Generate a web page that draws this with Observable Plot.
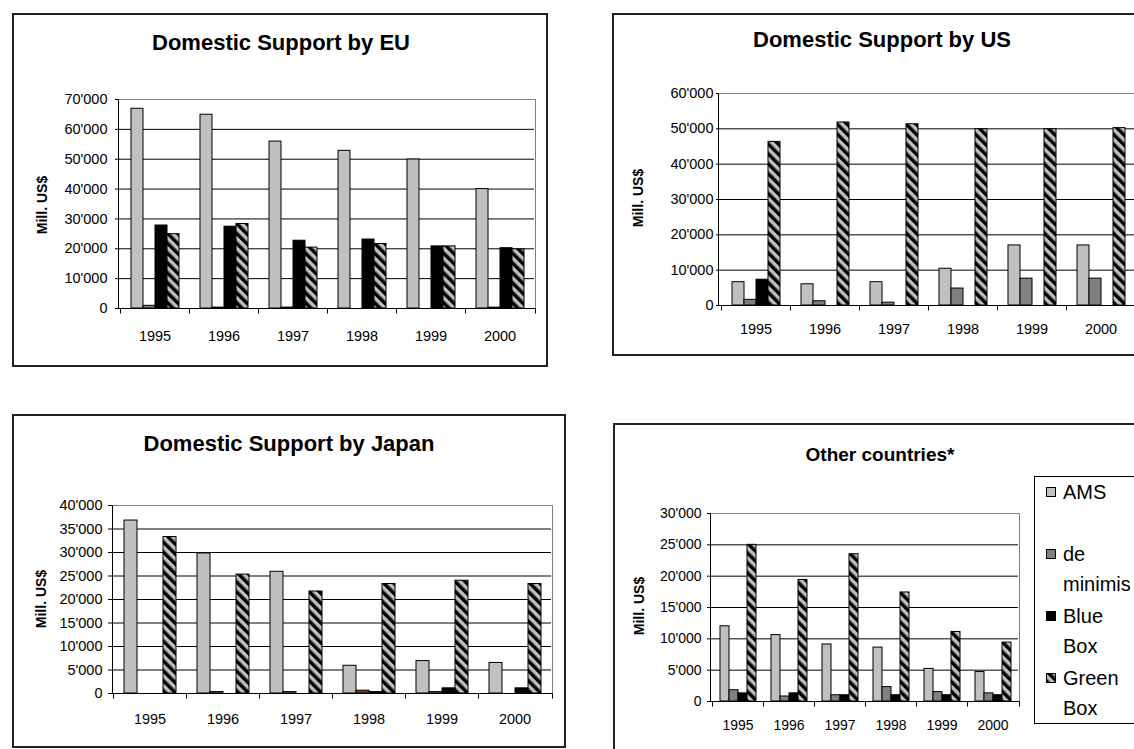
<!DOCTYPE html>
<html>
<head>
<meta charset="utf-8">
<script src="https://cdn.jsdelivr.net/npm/d3@7"></script>
<script src="https://cdn.jsdelivr.net/npm/@observablehq/plot@0.6"></script>
<style>
  body { margin: 0; background: #fff; }
  #page { position: relative; width: 1134px; height: 749px; overflow: hidden; background: #fff;
          font-family: "Liberation Sans", Arial, sans-serif; color: #000; }
  .frame { position: absolute; border: 2px solid #222; box-sizing: border-box; }
  .title { position: absolute; font-weight: bold; white-space: nowrap; transform: translate(-50%, -50%); line-height: 1; }
  .ylab { position: absolute; font-weight: bold; font-size: 14px; white-space: nowrap; line-height: 1;
          transform: translate(-50%, -50%) rotate(-90deg); }
  .chart { position: absolute; }
  .legend { position: absolute; border: 1px solid #000; box-sizing: border-box; background: #fff; }
  .entry { position: absolute; left: 0; font-size: 20px; line-height: 30px; }
  .entry .sw { position: absolute; left: 11px; top: 10px; width: 10px; height: 10px; box-sizing: border-box; border: 1px solid #000; }
  .entry .tx { position: absolute; left: 28px; top: 0; white-space: nowrap; }
</style>
</head>
<body>
<div id="page"></div>
<script>
// ---------------- data ----------------
const years = ["1995", "1996", "1997", "1998", "1999", "2000"];
const series = ["AMS", "de minimis", "Blue Box", "Green Box"];
const legendLines = [["AMS"], ["de", "minimis"], ["Blue", "Box"], ["Green", "Box"]];

// Domestic Support by EU (Mill. US$)
const euAMS       = [66900, 64900, 55900, 52800, 49900, 40000];
const euDeMinimis = [900, 300, 300, 0, 0, 300];
const euBlueBox   = [27800, 27400, 22700, 23100, 20800, 20200];
const euGreenBox  = [24900, 28300, 20400, 21600, 20800, 19800];

// Domestic Support by US
const usAMS       = [6600, 6000, 6600, 10400, 17000, 17000];
const usDeMinimis = [1600, 1200, 800, 4800, 7600, 7600];
const usBlueBox   = [7300, 0, 0, 0, 0, 0];
const usGreenBox  = [46300, 51800, 51300, 49900, 49900, 50200];

// Domestic Support by Japan
const jpAMS       = [36800, 29800, 25900, 5900, 6900, 6500];
const jpDeMinimis = [0, 300, 300, 600, 300, 0];
const jpBlueBox   = [0, 0, 0, 300, 1100, 1100];
const jpGreenBox  = [33300, 25300, 21700, 23300, 24000, 23300];

// Other countries*
const otAMS       = [12000, 10600, 9100, 8600, 5200, 4700];
const otDeMinimis = [1800, 800, 1000, 2300, 1500, 1300];
const otBlueBox   = [1300, 1300, 1000, 1000, 1000, 1000];
const otGreenBox  = [25000, 19400, 23500, 17400, 11100, 9400];

// y-axis tick values
const yTicksEU    = [0, 10000, 20000, 30000, 40000, 50000, 60000, 70000];
const yTicksUS    = [0, 10000, 20000, 30000, 40000, 50000, 60000];
const yTicksJapan = [0, 5000, 10000, 15000, 20000, 25000, 30000, 35000, 40000];
const yTicksOther = [0, 5000, 10000, 15000, 20000, 25000, 30000];

const titles = ["Domestic Support by EU", "Domestic Support by US", "Domestic Support by Japan", "Other countries*"];
const yLabel = "Mill. US$";

// ---------------- styling / layout ----------------
const FONT = '"Liberation Sans", Arial, sans-serif';
const fmt = d3.formatLocale({decimal: ".", thousands: "'", grouping: [3], currency: ["", ""]}).format(",");
const page = document.getElementById("page");

function addDiv(cls, css, text) {
  const d = document.createElement("div");
  d.className = cls;
  Object.assign(d.style, css);
  if (text != null) d.textContent = text;
  page.appendChild(d);
  return d;
}

function hatchDefs(svgSel, id) {
  const defs = svgSel.insert("defs", ":first-child");
  const p = defs.append("pattern").attr("id", id).attr("patternUnits", "userSpaceOnUse")
    .attr("width", 7).attr("height", 7).attr("patternTransform", "rotate(-45)");
  p.append("rect").attr("width", 7).attr("height", 7).attr("fill", "#c0c0c0");
  p.append("rect").attr("width", 3.5).attr("height", 7).attr("fill", "#000");
}

function panel(cfg) {
  const rows = [];
  years.forEach((yr, i) => cfg.values.forEach((arr, j) =>
    rows.push({year: yr, series: series[j], value: arr[i]})));
  const s = cfg.svg, p = cfg.plot;
  const yMax = cfg.yTicks[cfg.yTicks.length - 1];
  const hatchId = "hatch-" + cfg.id;
  const fills = {"AMS": "#c0c0c0", "de minimis": "#808080", "Blue Box": "#000000", "Green Box": `url(#${hatchId})`};
  const fillOf = d => (cfg.special && cfg.special(d)) || fills[d.series];

  const chart = Plot.plot({
    width: s.w, height: s.h,
    marginLeft: p.x0 - s.x, marginRight: s.x + s.w - p.x1,
    marginTop: p.top - s.y, marginBottom: s.y + s.h - p.zero,
    style: {fontFamily: FONT, fontSize: cfg.font + "px", color: "#000", background: "transparent", overflow: "visible"},
    fx: {domain: years, padding: 0, label: null, axis: "bottom", tickSize: 0, tickPadding: cfg.xPad},
    x: {domain: series, axis: null, paddingInner: 0, paddingOuter: 0.75},
    y: {domain: [0, yMax], ticks: cfg.yTicks, tickFormat: fmt, tickSize: 5, tickPadding: cfg.yPad, label: null},
    color: {type: "identity"},
    marks: [
      Plot.ruleY(cfg.yTicks.slice(1, -1), {stroke: "#000", strokeWidth: 1}),
      Plot.barY(rows, {fx: "year", x: "series", y: "value", fill: fillOf, stroke: "#000", strokeWidth: 1}),
      Plot.ruleY([0], {stroke: "#000", strokeWidth: 1})
    ]
  });
  chart.classList.add("chart");
  chart.style.left = s.x + "px";
  chart.style.top = s.y + "px";
  page.appendChild(chart);

  const svg = d3.select(chart);
  hatchDefs(svg, hatchId);
  const fxS = chart.scale("fx"), yS = chart.scale("y");
  const y0 = Math.round(yS.apply(0)) + 0.5, yT = Math.round(yS.apply(yMax)) + 0.5;
  const [r0, r1] = fxS.range;
  const L = Math.round(r0) + 0.5, R = Math.round(r1) + 0.5;
  const g = svg.append("g").attr("stroke-width", 1).attr("fill", "none");
  // plot-area border (top/right grey), y axis line (black)
  g.append("line").attr("x1", L).attr("x2", R).attr("y1", yT).attr("y2", yT).attr("stroke", "#808080");
  g.append("line").attr("x1", R).attr("x2", R).attr("y1", yT).attr("y2", y0).attr("stroke", "#808080");
  g.append("line").attr("x1", L).attr("x2", L).attr("y1", yT).attr("y2", y0).attr("stroke", "#000");
  g.append("line").attr("x1", L).attr("x2", R).attr("y1", y0).attr("y2", y0).attr("stroke", "#000");
  // category boundary ticks
  years.map(yr => fxS.apply(yr)).concat([r1]).forEach(b => {
    const bx = Math.round(b) + 0.5;
    g.append("line").attr("x1", bx).attr("x2", bx).attr("y1", y0).attr("y2", y0 + 5).attr("stroke", "#000");
  });

  // frame, title, y label
  addDiv("frame", {left: cfg.frame.x + "px", top: cfg.frame.y + "px", width: cfg.frame.w + "px", height: cfg.frame.h + "px"});
  addDiv("title", {left: cfg.title.x + "px", top: cfg.title.y + "px", fontSize: cfg.title.size + "px"}, cfg.title.text);
  addDiv("ylab", {left: cfg.ylab.x + "px", top: cfg.ylab.y + "px"}, yLabel);
  return fills;
}

panel({
  id: "eu", values: [euAMS, euDeMinimis, euBlueBox, euGreenBox], yTicks: yTicksEU,
  svg: {x: 12, y: 13, w: 536, h: 354}, plot: {x0: 118, x1: 535, top: 99, zero: 308},
  frame: {x: 12, y: 13, w: 536, h: 354},
  title: {x: 281, y: 43, size: 22, text: titles[0]}, ylab: {x: 42, y: 205},
  font: 14.5, xPad: 22, yPad: 8
});
panel({
  id: "us", values: [usAMS, usDeMinimis, usBlueBox, usGreenBox], yTicks: yTicksUS,
  svg: {x: 612, y: 13, w: 540, h: 343}, plot: {x0: 718, x1: 1137, top: 93, zero: 305},
  frame: {x: 612, y: 13, w: 540, h: 343},
  title: {x: 882, y: 40, size: 22, text: titles[1]}, ylab: {x: 638, y: 198},
  font: 14.5, xPad: 18, yPad: 3
});
panel({
  id: "jp", values: [jpAMS, jpDeMinimis, jpBlueBox, jpGreenBox], yTicks: yTicksJapan,
  svg: {x: 12, y: 414, w: 554, h: 334}, plot: {x0: 112, x1: 552, top: 505, zero: 693},
  frame: {x: 12, y: 414, w: 554, h: 334},
  title: {x: 289, y: 444, size: 22, text: titles[2]}, ylab: {x: 41, y: 599},
  font: 14.5, xPad: 20, yPad: 6,
  special: d => (d.year === "1998" && d.series === "de minimis") ? "#8b3a10" : null
});
const fillsOther = panel({
  id: "ot", values: [otAMS, otDeMinimis, otBlueBox, otGreenBox], yTicks: yTicksOther,
  svg: {x: 613, y: 423, w: 421, h: 326}, plot: {x0: 710, x1: 1019, top: 513, zero: 701},
  frame: {x: 613, y: 423, w: 600, h: 400},
  title: {x: 880, y: 454, size: 19, text: titles[3]}, ylab: {x: 639, y: 606},
  font: 14, xPad: 19, yPad: 6
});

// ---------------- legend ----------------
const legend = addDiv("legend", {left: "1034px", top: "476px", width: "200px", height: "248px"});
series.forEach((name, i) => {
  const e = document.createElement("div");
  e.className = "entry";
  e.style.top = (i * 62) + "px";
  const sw = document.createElement("div");
  sw.className = "sw";
  if (name === "Green Box") {
    sw.innerHTML = '<svg width="8" height="8" style="display:block"><rect width="8" height="8" fill="url(#hatch-ot)"/></svg>';
  } else {
    sw.style.background = fillsOther[name];
  }
  const tx = document.createElement("div");
  tx.className = "tx";
  tx.innerHTML = legendLines[i].join("<br>");
  e.appendChild(sw);
  e.appendChild(tx);
  legend.appendChild(e);
});
</script>
</body>
</html>
